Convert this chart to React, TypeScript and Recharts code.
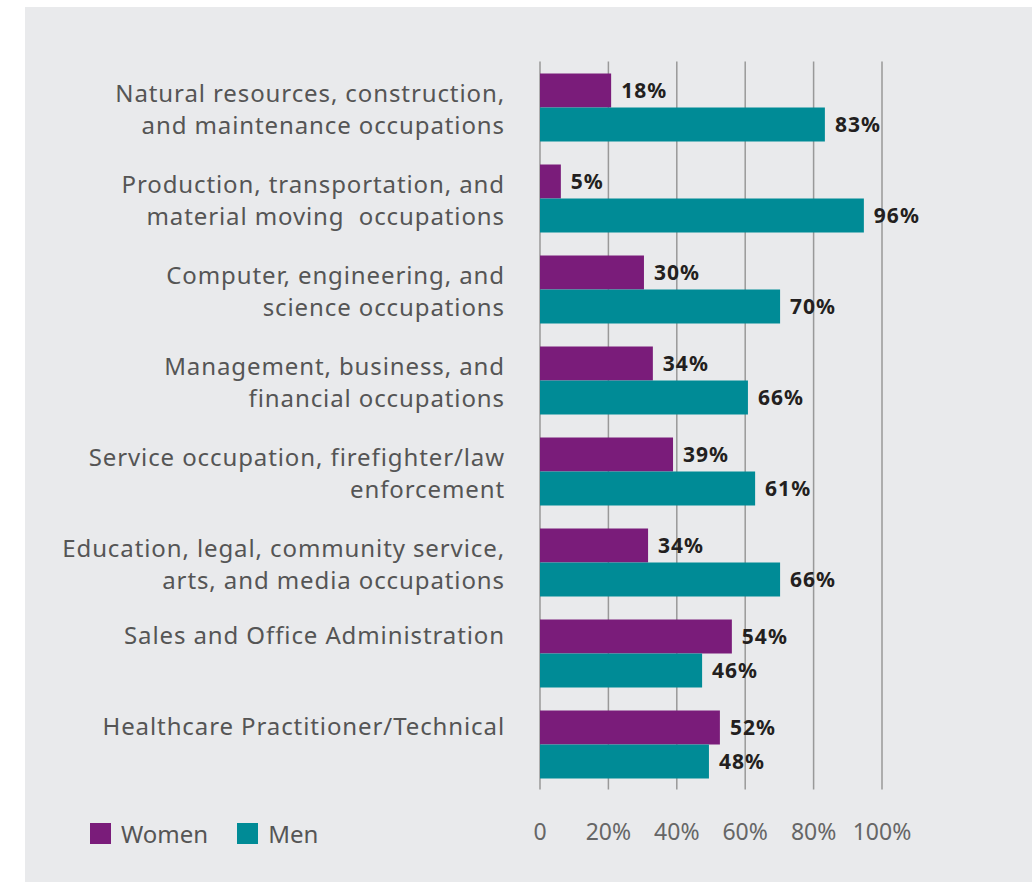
import React from "react";
import { BarChart, Bar, XAxis, YAxis, CartesianGrid, LabelList } from "recharts";

const categories = [
  "Natural resources, construction,\nand maintenance occupations",
  "Production, transportation, and\nmaterial moving  occupations",
  "Computer, engineering, and\nscience occupations",
  "Management, business, and\nfinancial occupations",
  "Service occupation, firefighter/law\nenforcement",
  "Education, legal, community service,\narts, and media occupations",
  "Sales and Office Administration",
  "Healthcare Practitioner/Technical",
];
// bar lengths as drawn in the picture
const women = [20.8, 6.1, 30.4, 33.0, 38.9, 31.6, 56.1, 52.6];
const men = [83.3, 94.7, 70.2, 60.8, 62.9, 70.2, 47.4, 49.4];
// printed labels
const womenLabels = ["18%", "5%", "30%", "34%", "39%", "34%", "54%", "52%"];
const menLabels = ["83%", "96%", "70%", "66%", "61%", "66%", "46%", "48%"];
const xTicks = [0, 20, 40, 60, 80, 100];

const PURPLE = "#7a1c7a";
const TEAL = "#008b96";
const FONT = "'Noto Sans', sans-serif";

const data = categories.map((c, i) => ({
  cat: c,
  women: women[i],
  men: men[i],
  womenLabel: womenLabels[i],
  menLabel: menLabels[i],
}));

function CatTick(props: any) {
  const { x, y, payload } = props;
  const lines = String(payload.value).split("\n");
  const baseY = lines.length === 1 ? y - 9 : y - 5;
  return (
    <g>
      {lines.map((l, i) => (
        <text key={i} x={x} y={baseY + i * 32} textAnchor="end" fill="#555" fontSize={24} letterSpacing={0.9} fontFamily={FONT} style={{ whiteSpace: "pre" }}>
          {l}
        </text>
      ))}
    </g>
  );
}

function LegendBox() {
  const item = (color: string, label: string) => (
    <span style={{ display: "inline-flex", alignItems: "center", marginRight: 29 }}>
      <span style={{ width: 21, height: 21, background: color, display: "inline-block", marginRight: 10 }} />
      <span style={{ fontSize: 24, lineHeight: "21px", color: "#555", fontFamily: FONT }}>{label}</span>
    </span>
  );
  return (
    <div style={{ position: "absolute", left: 65, top: 816, display: "flex" }}>
      {item(PURPLE, "Women")}
      {item(TEAL, "Men")}
    </div>
  );
}

const valueLabelStyle = {
  position: "right" as const,
  offset: 10,
  fill: "#231f20",
  fontSize: 21,
  fontWeight: 700,
  fontFamily: FONT,
  letterSpacing: 1,
};

export default function App() {
  return (
    <div style={{ position: "absolute", left: 25, top: 7, width: 1007, height: 875, background: "#e9eaec" }}>
      <BarChart
        width={1007}
        height={875}
        data={data}
        layout="vertical"
        margin={{ top: 54.5, right: 150, bottom: 42.5, left: 0 }}
        barGap={0}
      >
        <CartesianGrid horizontal={false} vertical={true} stroke="#999" strokeWidth={1.5} />
        <XAxis
          type="number"
          domain={[0, 100]}
          ticks={xTicks}
          tickFormatter={(v: number) => (v === 0 ? "0" : v + "%")}
          axisLine={false}
          tickLine={false}
          tickSize={0}
          tickMargin={34}
          height={50}
          tick={{ fill: "#666", fontSize: 23, fontFamily: FONT }}
          interval={0}
        />
        <YAxis
          type="category"
          dataKey="cat"
          width={515}
          axisLine={false}
          tickLine={false}
          tickSize={0}
          tickMargin={35}
          tick={<CatTick />}
          interval={0}
        />
        <Bar dataKey="women" name="Women" fill={PURPLE} barSize={34} isAnimationActive={false}>
          <LabelList dataKey="womenLabel" {...valueLabelStyle} />
        </Bar>
        <Bar dataKey="men" name="Men" fill={TEAL} barSize={34} isAnimationActive={false}>
          <LabelList dataKey="menLabel" {...valueLabelStyle} />
        </Bar>
      </BarChart>
      <LegendBox />
    </div>
  );
}
